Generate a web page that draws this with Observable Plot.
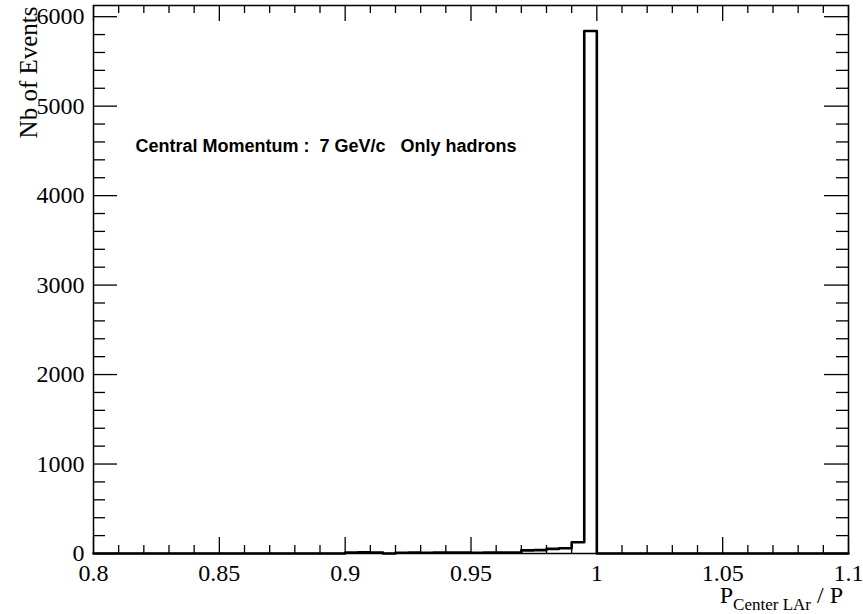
<!DOCTYPE html>
<html><head><meta charset="utf-8">
<script src="https://cdn.jsdelivr.net/npm/d3@7"></script>
<script src="https://cdn.jsdelivr.net/npm/@observablehq/plot@0.6"></script>
<style>
body{margin:0;background:#fff;}
svg text{white-space:pre;}
</style></head><body><div id="chart"></div>
<script>
// Histogram: 60 bins of width 0.005 from 0.8 to 1.1
const binStart = 0.8;
const binWidth = 0.005;
const counts = [
  0,0,0,0,0,0,0,0,0,0, 0,0,0,0,0,0,0,0,0,0,   // 0.80 - 0.90
  12,13,12,0, 9,10,9,10,11,10,                // 0.90 - 0.95
  9,11,10,11, 35,38,52,58,125,5840,           // 0.95 - 1.00
  0,0,0,0,0,0,0,0,0,0, 0,0,0,0,0,0,0,0,0,0    // 1.00 - 1.10
];
const xDomain = [0.8, 1.1];
const yDomain = [0, 6125];
const xMajor = [0.8, 0.85, 0.9, 0.95, 1.0, 1.05, 1.1];
const xTickLabels = ["0.8", "0.85", "0.9", "0.95", "1", "1.05", "1.1"];
const xMinor = [0.81,0.82,0.83,0.84,0.86,0.87,0.88,0.89,0.91,0.92,0.93,0.94,0.96,0.97,0.98,0.99,
                1.01,1.02,1.03,1.04,1.06,1.07,1.08,1.09];
const yMajor = [0, 1000, 2000, 3000, 4000, 5000, 6000];
const yTickLabels = ["0", "1000", "2000", "3000", "4000", "5000", "6000"];
const yMinor = [200,400,600,800,1200,1400,1600,1800,2200,2400,2600,2800,3200,3400,3600,3800,
                4200,4400,4600,4800,5200,5400,5600,5800];
const yTitle = "Nb of Events";
const annotation = "Central Momentum :  7 GeV/c   Only hadrons";

const steps = counts.map((c, i) => ({x: binStart + i * binWidth, y: c}));
steps.push({x: binStart + counts.length * binWidth, y: 0});

const W = 863, H = 614, mL = 93, mR = 15, mT = 5, mB = 61;
const innerW = W - mL - mR, innerH = H - mT - mB;
const serif = "Liberation Serif, Times New Roman, serif";
const tickStyle = {stroke: "#000", strokeWidth: 1.3};

const plot = Plot.plot({
  width: W, height: H,
  marginLeft: mL, marginRight: mR, marginTop: mT, marginBottom: mB,
  x: {domain: xDomain, axis: null},
  y: {domain: yDomain, axis: null},
  marks: [
    Plot.line(steps, {x: "x", y: "y", curve: "step-after", stroke: "#000", strokeWidth: 2.6}),
    // x ticks bottom / top
    Plot.ruleX(xMajor, {x: d => d, insetTop: innerH - 16, ...tickStyle}),
    Plot.ruleX(xMajor, {x: d => d, insetBottom: innerH - 16, ...tickStyle}),
    Plot.ruleX(xMinor, {x: d => d, insetTop: innerH - 8, ...tickStyle}),
    Plot.ruleX(xMinor, {x: d => d, insetBottom: innerH - 8, ...tickStyle}),
    // y ticks left / right
    Plot.ruleY(yMajor, {y: d => d, insetRight: innerW - 24, ...tickStyle}),
    Plot.ruleY(yMajor, {y: d => d, insetLeft: innerW - 24, ...tickStyle}),
    Plot.ruleY(yMinor, {y: d => d, insetRight: innerW - 12, ...tickStyle}),
    Plot.ruleY(yMinor, {y: d => d, insetLeft: innerW - 12, ...tickStyle}),
    Plot.frame({stroke: "#000", strokeWidth: 1.5}),
    // tick labels
    Plot.text(xMajor, {x: d => d, text: (d, i) => xTickLabels[i], frameAnchor: "bottom", dy: 27,
      lineAnchor: "bottom", fontFamily: serif, fontSize: 24, fill: "#000"}),
    Plot.text(yMajor, {y: d => d, text: (d, i) => yTickLabels[i], frameAnchor: "left", dx: -9,
      textAnchor: "end", lineAnchor: "middle", fontFamily: serif, fontSize: 24, fill: "#000"}),
    // y title
    Plot.text([yTitle], {text: d => d, frameAnchor: "top-left", dx: -57, dy: 1, rotate: -90,
      textAnchor: "end", lineAnchor: "bottom", fontFamily: serif, fontSize: 25, fill: "#000"}),
    // annotation
    Plot.text([annotation], {text: d => d, frameAnchor: "top-left", dx: 42, dy: 146,
      textAnchor: "start", lineAnchor: "bottom", fontFamily: "Liberation Sans, Arial, sans-serif",
      fontWeight: "bold", fontSize: 18, fill: "#000"})
  ]
});

// x-axis title with subscript
const svg = d3.select(plot);
const t = svg.append("text")
  .attr("x", W - 20).attr("y", 603)
  .attr("text-anchor", "end")
  .attr("font-family", serif)
  .attr("fill", "#000");
t.append("tspan").attr("font-size", 24).text("P");
t.append("tspan").attr("font-size", 17).attr("dy", 7).text("Center LAr");
t.append("tspan").attr("font-size", 24).attr("dy", -7).text(" / P");

document.getElementById("chart").appendChild(plot);
</script></body></html>
